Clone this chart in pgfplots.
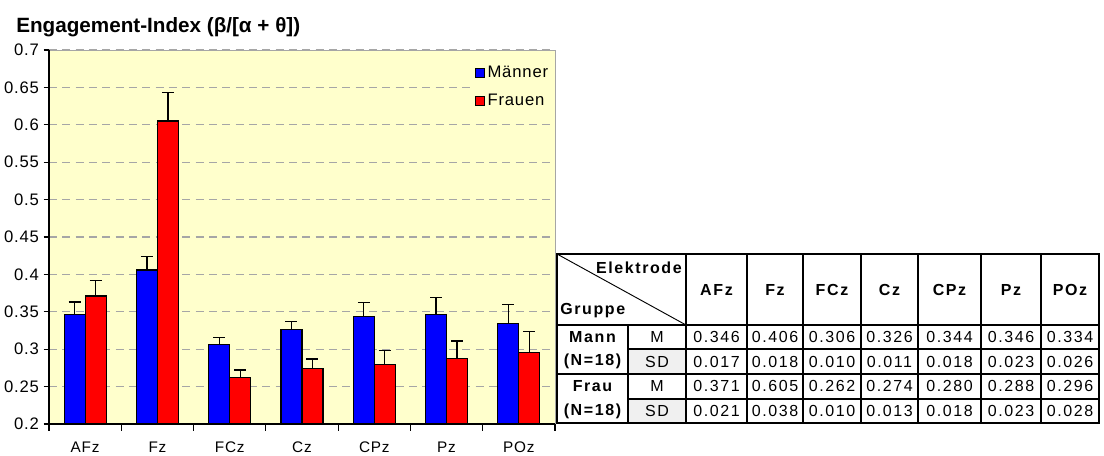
\documentclass[border=0pt]{standalone}
\usepackage{fontspec}
\setmainfont{Liberation Sans}
\newfontfamily\tabfont[LetterSpace=10]{Liberation Sans}
\newfontfamily\tickfont[LetterSpace=5]{Liberation Sans}
\usepackage{pgfplots}
\pgfplotsset{compat=1.18}
\usepackage{pgfplotstable}

\definecolor{chartbg}{RGB}{255,255,204}
\definecolor{mblue}{RGB}{0,0,255}
\definecolor{fred}{RGB}{255,0,0}

% x  M  SD
\pgfplotstableread{
x mean sd
0 0.346 0.017
1 0.406 0.018
2 0.306 0.010
3 0.326 0.011
4 0.344 0.018
5 0.346 0.023
6 0.334 0.026
}\maenner
\pgfplotstableread{
x mean sd
0 0.371 0.021
1 0.605 0.038
2 0.262 0.010
3 0.274 0.013
4 0.280 0.018
5 0.288 0.023
6 0.296 0.028
}\frauen

\begin{document}
\begin{tikzpicture}
\path[use as bounding box] (0,0) rectangle (828pt,342pt);

\begin{axis}[
    at={(36.75pt,24pt)}, anchor=south west,
    scale only axis,
    width=379.5pt, height=280.5pt,
    ybar=0pt, bar width=15.75pt,
    xmin=-0.5, xmax=6.5,
    ymin=0.2, ymax=0.7,
    ytick={0.2,0.25,...,0.71},
    xtick={0,...,6},
    xticklabels={AFz,Fz,FCz,Cz,CPz,Pz,POz},
    xtick style={draw=none},
    extra x ticks={-0.5,0.5,1.5,2.5,3.5,4.5,5.5,6.5},
    extra x tick labels={},
    extra x tick style={xtick style={draw=black, line width=0.8pt}, major tick length=5pt, grid=none},
    axis lines*=left,
    axis line style={black, line width=0.8pt, -},
    tick align=outside,
    major tick length=4pt,
    ytick style={black, line width=0.8pt},
    axis background/.style={fill=chartbg, draw=gray!70},
    ymajorgrids,
    major grid style={gray!70, line width=0.8pt, dash pattern=on 6pt off 4pt},
    font=\tickfont\fontsize{12.5}{14}\selectfont,
    /pgf/number format/assume math mode=true,
    yticklabel style={/pgf/number format/.cd, fixed, precision=2},
    xticklabel style={yshift=-8pt, inner sep=1pt, font=\tickfont\fontsize{11.5}{13}\selectfont},
    legend style={at={(0.995,0.968)}, anchor=north east, fill=chartbg, draw=none,
        font=\tickfont\fontsize{12.5}{14}\selectfont, row sep=7pt, inner sep=1pt},
    legend cell align=left,
    legend image code/.code={\draw[#1, draw=black, line width=0.6pt] (0pt,-3.5pt) rectangle (7pt,3.5pt);},
    error bars/y dir=plus,
    error bars/y explicit,
    error bars/error mark options={black, line width=1pt, mark size=4.5pt, rotate=90},
    error bars/error bar style={black, line width=1pt},
]
\addplot[fill=mblue, draw=black, line width=0.9pt] table[x=x, y=mean, y error=sd] {\maenner};
\addplot[fill=fred, draw=black, line width=0.9pt] table[x=x, y=mean, y error=sd] {\frauen};
\legend{Männer, Frauen}
\end{axis}

\begin{scope}[x=0.75pt, y=-0.75pt, shift={(0,342pt)}]
\node[anchor=west, font=\bfseries\fontsize{15.5}{17}\selectfont, inner sep=0pt] at (16,27) {Engagement-Index (β/[α + θ])};

% table
\fill[white] (557,254) rectangle (1099,423);
\fill[gray!12] (628,349) rectangle (686,374);
\fill[gray!12] (628,399) rectangle (686,423);
\begin{scope}[line width=0.9pt, black]
\draw (557,254) rectangle (1099,423);
\draw (557,325) -- (1099,325);
\draw (557,374) -- (1099,374);
\draw (628,349) -- (1099,349);
\draw (628,399) -- (1099,399);
\draw (628,325) -- (628,423);
\foreach \c in {686,747,803,861,918,981,1041} \draw (\c,254) -- (\c,423);
\draw[line width=0.7pt] (557,254) -- (686,325);
\end{scope}

\begin{scope}[font=\tabfont\fontsize{12}{14}\selectfont, inner sep=0pt]
\node[anchor=east, font=\tabfont\bfseries\fontsize{12}{14}\selectfont] at (682,268) {Elektrode};
\node[anchor=west, font=\tabfont\bfseries\fontsize{12}{14}\selectfont] at (560,311) {Gruppe};
\foreach \cx/\t in {716.5/AFz, 775/Fz, 832/FCz, 889.5/Cz, 949.5/CPz, 1011/Pz, 1070/POz}
  \node[font=\tabfont\bfseries\fontsize{12}{14}\selectfont] at (\cx,290) {\t};
\node[font=\tabfont\bfseries\fontsize{12}{14}\selectfont] at (592.5,337) {Mann};
\node[font=\tabfont\bfseries\fontsize{12}{14}\selectfont] at (592.5,361.5) {(N=18)};
\node[font=\tabfont\bfseries\fontsize{12}{14}\selectfont] at (592.5,386) {Frau};
\node[font=\tabfont\bfseries\fontsize{12}{14}\selectfont] at (592.5,411) {(N=18)};
\node at (657,337) {M};
\node at (657,361.5) {SD};
\node at (657,386) {M};
\node at (657,411) {SD};
\foreach \cx/\a/\b/\c/\d in {
  716.5/0.346/0.017/0.371/0.021,
  775/0.406/0.018/0.605/0.038,
  832/0.306/0.010/0.262/0.010,
  889.5/0.326/0.011/0.274/0.013,
  949.5/0.344/0.018/0.280/0.018,
  1011/0.346/0.023/0.288/0.023,
  1070/0.334/0.026/0.296/0.028} {
  \node at (\cx,337) {\a};
  \node at (\cx,361.5) {\b};
  \node at (\cx,386) {\c};
  \node at (\cx,411) {\d};
}
\end{scope}
\end{scope}
\end{tikzpicture}
\end{document}
